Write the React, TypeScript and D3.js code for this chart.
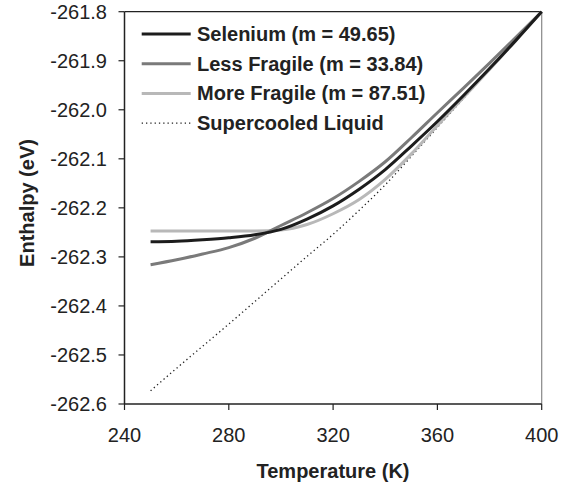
import React from 'react';
import * as d3 from 'd3';

const temps = [250, 260, 270, 280, 290, 300, 310, 320, 330, 340, 350, 360, 370, 380, 390, 400];

const selenium = [-262.269, -262.268, -262.265, -262.261, -262.255, -262.244, -262.223, -262.196, -262.162, -262.122, -262.074, -262.024, -261.971, -261.916, -261.859, -261.800];
const lessFragile = [-262.316, -262.306, -262.294, -262.281, -262.262, -262.236, -262.210, -262.181, -262.146, -262.106, -262.057, -262.006, -261.956, -261.905, -261.853, -261.800];
const moreFragile = [-262.247, -262.247, -262.247, -262.247, -262.247, -262.245, -262.234, -262.212, -262.183, -262.142, -262.090, -262.032, -261.975, -261.918, -261.859, -261.800];
const supercooled = [-262.573, -262.527, -262.482, -262.437, -262.391, -262.345, -262.299, -262.254, -262.205, -262.153, -262.095, -262.036, -261.977, -261.918, -261.859, -261.800];

const xTicks = [240, 280, 320, 360, 400];
const yTicks = [-261.8, -261.9, -262.0, -262.1, -262.2, -262.3, -262.4, -262.5, -262.6];

const series = [
  { name: 'Selenium (m = 49.65)', values: selenium, color: '#1c1c1c', width: 3, dash: null },
  { name: 'Less Fragile (m = 33.84)', values: lessFragile, color: '#7a7a7a', width: 3, dash: null },
  { name: 'More Fragile (m = 87.51)', values: moreFragile, color: '#b8b8b8', width: 3, dash: null },
  { name: 'Supercooled Liquid', values: supercooled, color: '#222', width: 1.3, dash: '1.3,3' },
];

const font = '"Liberation Sans", Arial, sans-serif';

export default function App() {
  const width = 574;
  const height = 487;
  const left = 124.5;
  const right = 541.7;
  const top = 11.7;
  const bottom = 404;

  const x = d3.scaleLinear().domain([240, 400]).range([left, right]);
  const y = d3.scaleLinear().domain([-262.6, -261.8]).range([bottom, top]);

  const line = d3.line<[number, number]>()
    .x(d => x(d[0]))
    .y(d => y(d[1]))
    .curve(d3.curveMonotoneX);

  // draw order: supercooled underneath, then light to dark
  const drawOrder = [3, 2, 1, 0];

  return (
    <svg width={width} height={height} style={{ position: 'absolute', left: 0, top: 0, background: '#fff' }}>
      <rect width={width} height={height} fill="#fff" />

      {/* frame */}
      <line x1={left} x2={right} y1={top} y2={top} stroke="#222" strokeWidth={1.2} />
      <line x1={right} x2={right} y1={top} y2={bottom} stroke="#888" strokeWidth={1.2} />

      {/* curves */}
      {drawOrder.map(i => {
        const s = series[i];
        const pts = temps.map((t, k) => [t, s.values[k]] as [number, number]);
        return (
          <path key={s.name} d={line(pts) || ''} fill="none" stroke={s.color}
            strokeWidth={s.width} strokeDasharray={s.dash || undefined} strokeLinecap="butt" />
        );
      })}

      {/* y axis */}
      <line x1={left} x2={left} y1={top} y2={bottom} stroke="#222" strokeWidth={1.5} />
      {yTicks.map(t => (
        <g key={t} transform={`translate(0,${y(t)})`}>
          <line x1={left - 6} x2={left} stroke="#222" strokeWidth={1.2} />
          <text x={107} dy="0.35em" textAnchor="end" fontFamily={font} fontSize={20} fill="#222">
            {t.toFixed(1)}
          </text>
        </g>
      ))}

      {/* x axis */}
      <line x1={left} x2={right} y1={bottom} y2={bottom} stroke="#222" strokeWidth={1.5} />
      {xTicks.map(t => (
        <g key={t} transform={`translate(${x(t)},0)`}>
          <line y1={bottom} y2={bottom + 6} stroke="#222" strokeWidth={1.2} />
          <text y={442} textAnchor="middle" fontFamily={font} fontSize={20} fill="#222">{t}</text>
        </g>
      ))}

      {/* axis titles */}
      <text x={333} y={478} textAnchor="middle" fontFamily={font} fontSize={20} fontWeight="bold" fill="#222">
        Temperature (K)
      </text>
      <text transform="translate(34,203) rotate(-90)" textAnchor="middle" fontFamily={font} fontSize={20}
        fontWeight="bold" fill="#222">
        Enthalpy (eV)
      </text>

      {/* legend */}
      {series.map((s, i) => {
        const ly = 34 + i * 29.7;
        return (
          <g key={s.name}>
            <line x1={141.7} x2={190.7} y1={ly} y2={ly} stroke={s.color}
              strokeWidth={s.width} strokeDasharray={s.dash || undefined} />
            <text x={197} y={ly} dy="0.35em" fontFamily={font} fontSize={20} fontWeight="bold" fill="#222">
              {s.name}
            </text>
          </g>
        );
      })}
    </svg>
  );
}
